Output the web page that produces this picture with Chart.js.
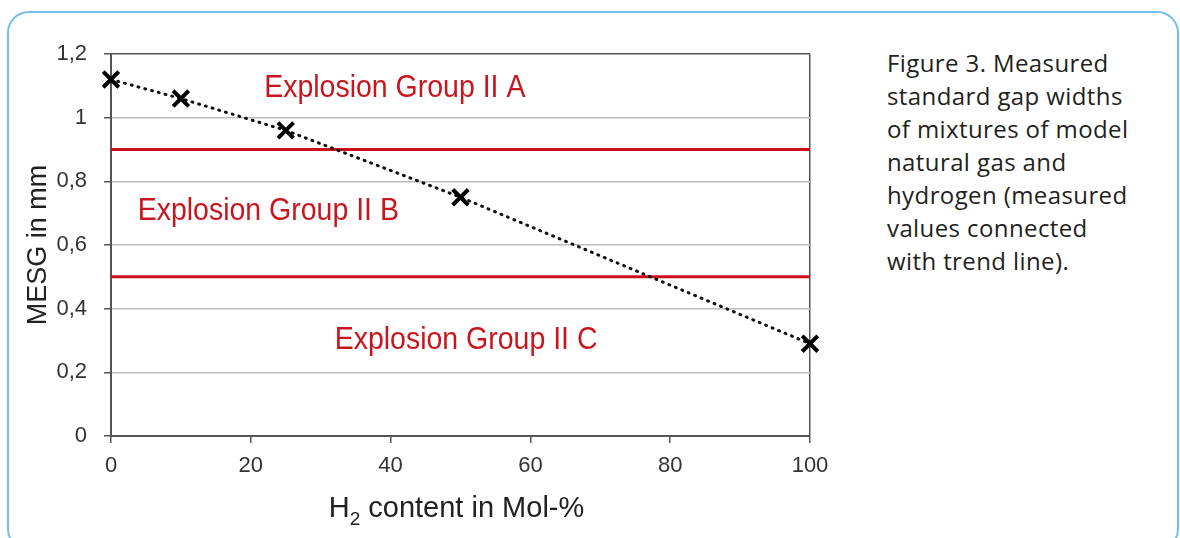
<!DOCTYPE html>
<html lang="en">
<head>
    <meta charset="UTF-8">
    <title>MESG of natural gas / hydrogen mixtures</title>
    <script src="https://cdn.jsdelivr.net/npm/chart.js"></script>
    <style>
        html, body { margin: 0; padding: 0; background: #fff; }
        body { width: 1180px; height: 538px; position: relative; overflow: hidden; }
        .frame {
            position: absolute; left: 7px; top: 11px; width: 1172px; height: 540px;
            border: 2.5px solid #74bfe9; border-radius: 22px; box-sizing: border-box;
        }
        .chart-container { position: absolute; left: 0; top: 0; width: 860px; height: 538px; }
        .caption {
            position: absolute; left: 887px; top: 46px; width: 292px;
            font-family: "Open Sans", "Noto Sans", sans-serif; font-size: 24px;
            letter-spacing: 0.4px; line-height: 33px; color: #231f20;
        }
    </style>
</head>
<body>
    <div class="frame"></div>
    <div class="chart-container">
        <canvas id="mesgChart" width="860" height="538"></canvas>
    </div>
    <div class="caption">Figure 3. Measured<br>standard gap widths<br>of mixtures of model<br>natural gas and<br>hydrogen (measured<br>values connected<br>with trend line).</div>

    <script>
        // measured values
        const h2Content = [0, 10, 25, 50, 100];
        const mesgValues = [1.12, 1.06, 0.96, 0.75, 0.29];

        // explosion group limits (mm)
        const groupLimits = [0.9, 0.5];
        const groupLabels = ['Explosion Group II A', 'Explosion Group II B', 'Explosion Group II C'];

        const yTicks = [0, 0.2, 0.4, 0.6, 0.8, 1.0, 1.2];
        const xTicks = [0, 20, 40, 60, 80, 100];

        const red = '#cc1018';
        const tickFont = { family: '"Liberation Sans", Arial, sans-serif', size: 22 };

        // label anchors in data units (x, y)
        const labelAnchors = [[40.6, 1.093], [22.5, 0.707], [50.8, 0.302]];

        // red group names, squeezed a bit to look like a narrow face
        const groupLabelPlugin = {
            id: 'groupLabels',
            afterDatasetsDraw(chart) {
                const ctx = chart.ctx;
                const xs = chart.scales.x, ys = chart.scales.y;
                const squeeze = 0.89;
                ctx.save();
                ctx.font = '32px "Liberation Sans", Arial, sans-serif';
                ctx.fillStyle = '#c8161e';
                ctx.textAlign = 'center';
                ctx.textBaseline = 'middle';
                groupLabels.forEach((txt, i) => {
                    const px = xs.getPixelForValue(labelAnchors[i][0]);
                    const py = ys.getPixelForValue(labelAnchors[i][1]);
                    ctx.save();
                    ctx.translate(px, py);
                    ctx.scale(squeeze, 1);
                    ctx.fillText(txt, 0, 0);
                    ctx.restore();
                });
                ctx.restore();
            }
        };

        // x axis title with subscript 2
        const xTitlePlugin = {
            id: 'xTitle',
            afterDraw(chart) {
                const ctx = chart.ctx;
                const area = chart.chartArea;
                const big = '29px "Liberation Sans", Arial, sans-serif';
                const small = '19px "Liberation Sans", Arial, sans-serif';
                const rest = ' content in Mol-%';
                ctx.save();
                ctx.fillStyle = '#222';
                ctx.textBaseline = 'alphabetic';
                ctx.font = big;
                const wH = ctx.measureText('H').width;
                const wRest = ctx.measureText(rest).width;
                ctx.font = small;
                const w2 = ctx.measureText('2').width;
                const total = wH + w2 + wRest;
                let x = (area.left + area.right) / 2 - total / 2 - 4;
                const base = area.bottom + 81;
                ctx.font = big;
                ctx.fillText('H', x, base);
                x += wH;
                ctx.font = small;
                ctx.fillText('2', x, base + 8);
                x += w2;
                ctx.font = big;
                ctx.fillText(rest, x, base);
                ctx.restore();
            }
        };

        const limitDatasets = groupLimits.map(v => ({
            data: [{ x: xTicks[0], y: v }, { x: xTicks[xTicks.length - 1], y: v }],
            borderColor: red,
            borderWidth: 3,
            pointRadius: 0,
            showLine: true,
            order: 2
        }));

        new Chart(document.getElementById('mesgChart'), {
            type: 'scatter',
            data: {
                datasets: [
                    ...limitDatasets,
                    {
                        data: h2Content.map((x, i) => ({ x: x, y: mesgValues[i] })),
                        showLine: true,
                        clip: false,
                        borderColor: '#111',
                        borderWidth: 3,
                        borderDash: [1, 6],
                        borderCapStyle: 'round',
                        pointStyle: 'crossRot',
                        pointRadius: 11,
                        pointBorderWidth: 4,
                        pointBorderColor: '#000',
                        order: 1
                    }
                ]
            },
            plugins: [groupLabelPlugin, xTitlePlugin],
            options: {
                responsive: false,
                animation: false,
                layout: { padding: { left: 0, top: 54, right: 50, bottom: 0 } },
                plugins: { legend: { display: false }, tooltip: { enabled: false } },
                scales: {
                    x: {
                        type: 'linear',
                        min: 0,
                        max: 100,
                        afterBuildTicks: scale => { scale.ticks = xTicks.map(v => ({ value: v })); },
                        afterFit: scale => { scale.height = 102; },
                        ticks: { font: tickFont, color: '#333', padding: 10 },
                        grid: {
                            color: ctx => ctx.tick && ctx.tick.value === 100 ? '#555' : 'rgba(0,0,0,0)',
                            tickColor: '#555',
                            tickLength: 7,
                            lineWidth: 1.5
                        },
                        border: { color: '#555', width: 2 }
                    },
                    y: {
                        min: 0,
                        max: 1.2,
                        afterBuildTicks: scale => { scale.ticks = yTicks.map(v => ({ value: v })); },
                        afterFit: scale => { scale.width = 111; },
                        ticks: {
                            font: tickFont,
                            color: '#333',
                            padding: 17,
                            callback: v => String(Math.round(v * 10) / 10).replace('.', ',')
                        },
                        grid: {
                            color: ctx => ctx.tick && ctx.tick.value === 1.2 ? '#555' : '#bdbdbd',
                            tickColor: '#555',
                            tickLength: 7,
                            lineWidth: 1.5
                        },
                        border: { color: '#555', width: 2 },
                        title: {
                            display: true,
                            text: 'MESG in mm',
                            color: '#222',
                            font: { family: '"Liberation Sans", Arial, sans-serif', size: 27 },
                            padding: { top: 22, bottom: 0 }
                        }
                    }
                }
            }
        });
    </script>
</body>
</html>
